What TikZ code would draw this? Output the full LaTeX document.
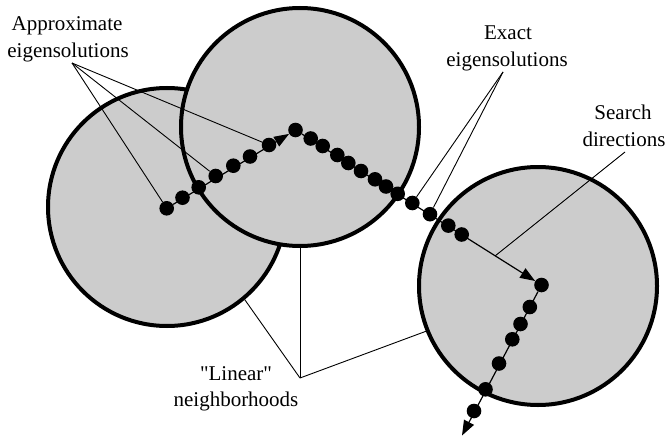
\documentclass[tikz,border=0pt]{standalone}
\usepackage{fontspec}
\setmainfont{Liberation Serif}[Ligatures=TeXOff]
\usetikzlibrary{arrows.meta}
\definecolor{regiongray}{RGB}{204,204,204}
\begin{document}
\begin{tikzpicture}[x=1pt,y=-1pt,
  region/.style={circle,draw=black,line width=4pt,fill=regiongray,minimum size=238pt,inner sep=0pt},
  sol/.style={circle,fill=black,minimum size=14.6pt,inner sep=0pt},
  searchdir/.style={line width=1.2pt,-{Triangle[length=15pt,width=11pt]}},
  leader/.style={line width=0.9pt},
  lbl/.style={font=\fontsize{21}{27}\selectfont,anchor=base,inner sep=0pt}]
\useasboundingbox (0,0) rectangle (667,436);
% linear neighbourhoods
\node[region] (c1) at (167,207) {};
\node[region] (c2) at (300,127) {};
\node[region] (c3) at (538,286) {};
% solutions, first leg
\node[sol] (d1) at (166.7,208.3) {};
\node[sol] (d2) at (182.5,197.7) {};
\node[sol] (d3) at (198.7,187.3) {};
\node[sol] (d4) at (215.7,176) {};
\node[sol] (d5) at (233.3,165.7) {};
\node[sol] (d6) at (250,156.5) {};
\node[sol] (d7) at (269,145) {};
\node[sol] (d8) at (295.5,130) {};
% second leg
\node[sol] (e1) at (310.7,138.5) {};
\node[sol] (e2) at (322.7,146) {};
\node[sol] (e3) at (337.3,155) {};
\node[sol] (e4) at (348.3,163) {};
\node[sol] (e5) at (361,171) {};
\node[sol] (e6) at (375,179.3) {};
\node[sol] (e7) at (386,186.5) {};
\node[sol] (e8) at (397.7,193.8) {};
\node[sol] (e9) at (412.3,203) {};
\node[sol] (e10) at (430,214.2) {};
\node[sol] (e11) at (448.3,225.6) {};
\node[sol] (e12) at (461.7,234.5) {};
\node[sol] (f0) at (541.5,285) {};
% third leg
\node[sol] (f1) at (529.8,307) {};
\node[sol] (f2) at (520.5,324) {};
\node[sol] (f3) at (512.3,339.3) {};
\node[sol] (f4) at (499,363.5) {};
\node[sol] (f5) at (485.5,389.3) {};
\node[sol] (f6) at (474,411) {};
\coordinate (tip) at (462,435.5);
% search directions
\draw[searchdir] (d1) -- (d8);
\draw[searchdir] (d8) -- (f0);
\draw[searchdir] (f0) -- (tip);
% labels
\node[lbl] (ap1) at (67,31) {Approximate};
\node[lbl] (ap2) at (68,57.5) {eigensolutions};
\node[lbl] (ex1) at (508,40) {Exact};
\node[lbl] (ex2) at (507,66.5) {eigensolutions};
\node[lbl] (se1) at (623,120) {Search};
\node[lbl] (se2) at (624,146.5) {directions};
\node[lbl] (li1) at (236,380) {"Linear"};
\node[lbl] (li2) at (236,406) {neighborhoods};
% leader lines
\coordinate (apx) at (72,63);
\draw[leader] (apx) -- (d1);
\draw[leader] (apx) -- (d4);
\draw[leader] (apx) -- (d7);
\coordinate (exx) at (503,72);
\draw[leader] (exx) -- (e9);
\draw[leader] (exx) -- (e10);
\coordinate (sex) at (625,152);
\coordinate (sey) at (495,256);
\draw[leader] (sex) -- (sey);
\coordinate (lix) at (300,378);
\draw[leader] (lix) -- (c1.-50);
\draw[leader] (lix) -- (c2.south);
\draw[leader] (lix) -- (c3.202);
\end{tikzpicture}
\end{document}
